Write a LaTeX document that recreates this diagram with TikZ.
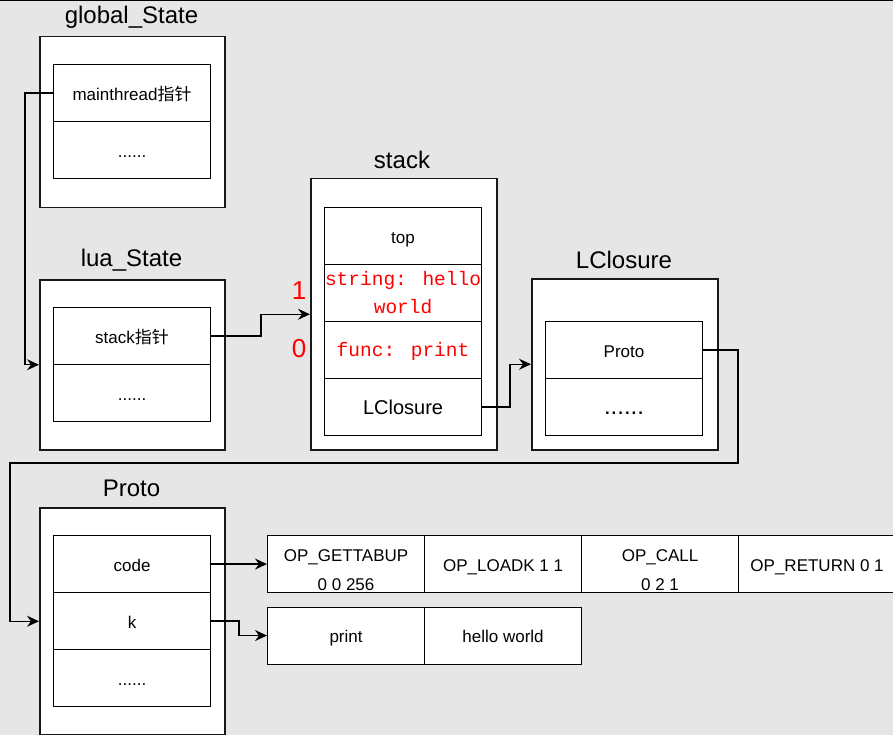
\documentclass[tikz,border=0pt]{standalone}
\usepackage{fontspec}
\setmainfont{Liberation Sans}
\newfontfamily\cjk{Noto Sans CJK SC}
\newfontfamily\redmono{Liberation Mono}
\usetikzlibrary{arrows.meta}

\definecolor{bggray}{HTML}{E6E6E6}
\definecolor{redtext}{HTML}{FF0000}

\tikzset{
	outerbox/.style={draw=black!90, line width=1.5pt, fill=white, anchor=north west, inner sep=0pt, minimum width=185pt},
	cellbase/.style={draw=black, line width=1.1pt, fill=white, anchor=north west, inner sep=0pt, minimum width=157pt, minimum height=57pt, font=\fontsize{17}{20}\selectfont},
	cellbox/.style={cellbase, text height=15pt, text depth=1pt},
	twoline/.style={cellbase, align=center, font=\fontsize{17}{29}\selectfont},
	boxtitle/.style={font=\fontsize{24}{28}\selectfont},
	redcell/.style={cellbase, text=redtext, align=center, font=\redmono\fontsize{19.5}{28}\selectfont},
	indexlabel/.style={text=redtext, font=\fontsize{26}{30}\selectfont},
	ptr/.style={line width=1.3pt, -{Stealth[length=12pt, width=11pt, inset=4pt]}}
}

\begin{document}
\begin{tikzpicture}[x=1pt, y=-1pt]

	\fill[bggray] (0,0) rectangle (893,735);
	\useasboundingbox (0,0) rectangle (893,735);
	\draw[line width=2pt] (0,0) -- (893,0);

	% global_State
	\node[boxtitle] (gtitle) at (131.5, 17) {global\_State};
	\node[outerbox, minimum height=171pt] (gstate) at (39, 36) {};
	\node[cellbox] (gmain) at (53, 64) {mainthread{\cjk 指针}};
	\node[cellbox] (gdots) at (53, 121) {......};

	% lua_State
	\node[boxtitle] (ltitle) at (131.5, 260) {lua\_State};
	\node[outerbox, minimum height=170pt] (lstate) at (39, 279) {};
	\node[cellbox] (lstack) at (53, 307) {stack{\cjk 指针}};
	\node[cellbox] (ldots) at (53, 364) {......};

	% stack
	\node[boxtitle] (stitle) at (402, 160) {stack};
	\node[outerbox, minimum width=186pt, minimum height=271pt] (stack) at (310, 178) {};
	\node[cellbox] (stop) at (324, 207) {top};
	\node[redcell] (sstr) at (324, 264) {string: hello\\world};
	\node[redcell, text height=14pt, text depth=2pt] (sfunc) at (324, 321) {func: print};
	\node[cellbox, font=\fontsize{20}{24}\selectfont] (sclosure) at (324, 378) {LClosure};
	\node[indexlabel] (idxone) at (299, 291) {1};
	\node[indexlabel] (idxzero) at (299, 349) {0};

	% LClosure
	\node[boxtitle] (ctitle) at (624, 260) {LClosure};
	\node[outerbox, minimum width=186pt, minimum height=171pt] (lclosure) at (531, 278) {};
	\node[cellbox] (cproto) at (545, 321) {Proto};
	\node[cellbox, font=\fontsize{24}{28}\selectfont] (cdots) at (545, 378) {......};

	% Proto
	\node[boxtitle] (ptitle) at (131.5, 488) {Proto};
	\node[outerbox, minimum height=227pt] (proto) at (39, 507) {};
	\node[cellbox] (pcode) at (53, 535) {code};
	\node[cellbox] (pk) at (53, 592) {k};
	\node[cellbox] (pdots) at (53, 649) {......};

	% code and k arrays
	\node[twoline] (opa) at (267, 535) {\rule{0pt}{25pt}OP\_GETTABUP\\0 0 256};
	\node[cellbox] (opb) at (424, 535) {OP\_LOADK 1 1};
	\node[twoline] (opc) at (581, 535) {\rule{0pt}{25pt}OP\_CALL\\0 2 1};
	\node[cellbox] (opd) at (738, 535) {OP\_RETURN 0 1};
	\node[cellbox] (ka) at (267, 606.5) {print};
	\node[cellbox] (kb) at (424, 606.5) {hello world};

	% pointers
	\draw[ptr] (gmain.west) -- ++(-28,0) |- (lstate.west);
	\draw[ptr] (lstack.east) -- ++(50,0) |- (stack.west);
	\draw[ptr] (sclosure.east) -- ++(28,0) |- (lclosure.west);
	\draw[ptr] (cproto.east) -- ++(35,0) -- ++(0,113) -| ([xshift=-29pt]proto.west) -- (proto.west);
	\draw[ptr] (pcode.east) -- (opa.west);
	\draw[ptr] (pk.east) -- ++(28,0) |- (ka.west);

\end{tikzpicture}
\end{document}
